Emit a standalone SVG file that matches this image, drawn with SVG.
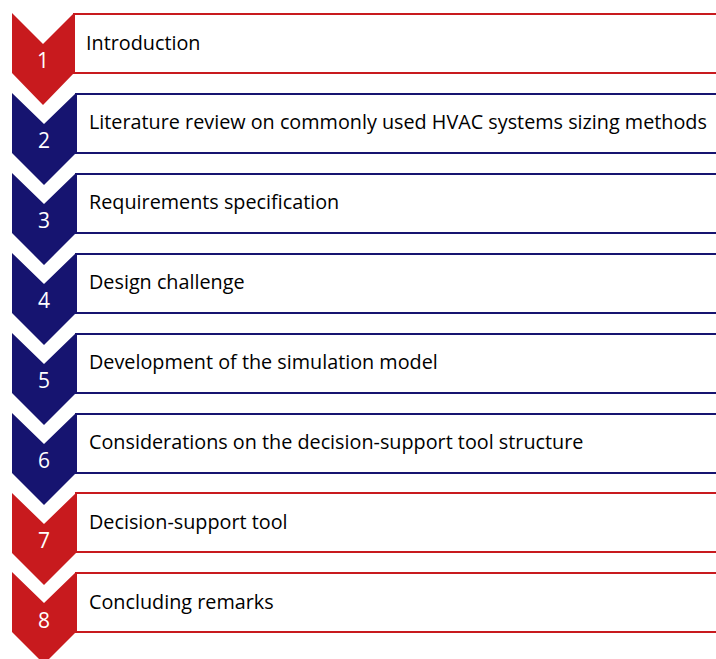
<svg xmlns="http://www.w3.org/2000/svg" width="716" height="659" viewBox="0 0 716 659">
<style>
.red .chev{fill:#c81a1e}
.blue .chev{fill:#161470}
.red .box{fill:#fff;stroke:#c81a1e;stroke-width:2}
.blue .box{fill:#fff;stroke:#161470;stroke-width:2}
.num{font-family:"Open Sans","Liberation Sans",sans-serif;font-size:21px;fill:#fff;text-anchor:middle}
.lbl{font-family:"Open Sans","Liberation Sans",sans-serif;font-size:19.8px;fill:#000}
</style>
<rect width="716" height="659" fill="#fff"/>
<g id="step1" class="red">
<rect class="box" x="74" y="14" width="660" height="59"/>
<path class="chev" d="M12,13 L43,44 L74,13 L74,73 L43,105 L12,73 Z"/>
<text class="num" x="43" y="68">1</text>
<text class="lbl" x="86" y="50">Introduction</text>
</g>
<g id="step2" class="blue">
<rect class="box" x="76" y="94" width="660" height="59"/>
<path class="chev" d="M12,93 L44,124 L76,93 L76,153 L44,185 L12,153 Z"/>
<text class="num" x="44" y="148">2</text>
<text class="lbl" x="89" y="129">Literature review on commonly used HVAC systems sizing methods</text>
</g>
<g id="step3" class="blue">
<rect class="box" x="76" y="174" width="660" height="59"/>
<path class="chev" d="M12,173 L44,204 L76,173 L76,233 L44,265 L12,233 Z"/>
<text class="num" x="44" y="228">3</text>
<text class="lbl" x="89" y="209">Requirements specification</text>
</g>
<g id="step4" class="blue">
<rect class="box" x="76" y="254" width="660" height="59"/>
<path class="chev" d="M12,253 L44,284 L76,253 L76,313 L44,345 L12,313 Z"/>
<text class="num" x="44" y="308">4</text>
<text class="lbl" x="89" y="289">Design challenge</text>
</g>
<g id="step5" class="blue">
<rect class="box" x="76" y="334" width="660" height="59"/>
<path class="chev" d="M12,333 L44,364 L76,333 L76,393 L44,425 L12,393 Z"/>
<text class="num" x="44" y="388">5</text>
<text class="lbl" x="89" y="369">Development of the simulation model</text>
</g>
<g id="step6" class="blue">
<rect class="box" x="76" y="414" width="660" height="59"/>
<path class="chev" d="M12,413 L44,444 L76,413 L76,473 L44,505 L12,473 Z"/>
<text class="num" x="44" y="468">6</text>
<text class="lbl" x="89" y="449">Considerations on the decision-support tool structure</text>
</g>
<g id="step7" class="red">
<rect class="box" x="76" y="493" width="660" height="59"/>
<path class="chev" d="M12,493 L44,524 L76,493 L76,553 L44,585 L12,553 Z"/>
<text class="num" x="44" y="548">7</text>
<text class="lbl" x="89" y="529">Decision-support tool</text>
</g>
<g id="step8" class="red">
<rect class="box" x="76" y="573" width="660" height="59"/>
<path class="chev" d="M12,572 L44,603 L76,572 L76,632 L44,664 L12,632 Z"/>
<text class="num" x="44" y="628">8</text>
<text class="lbl" x="89" y="609">Concluding remarks</text>
</g>
<g id="connectors"/>
</svg>
